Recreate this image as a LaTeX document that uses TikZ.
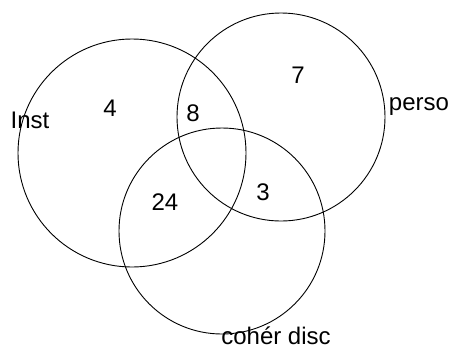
\documentclass[tikz,border=0pt]{standalone}
\usepackage{fontspec}
\setmainfont{Liberation Sans}
\begin{document}
\begin{tikzpicture}[x=1pt,y=-1pt,
  setcircle/.style={draw=black,line width=0.9pt,circle,inner sep=0pt},
  lbl/.style={font=\fontsize{24}{24}\selectfont,inner sep=0pt,anchor=center}]
\useasboundingbox (0,0) rectangle (452,349);
\node[setcircle,minimum size=228pt] (inst) at (132,153) {};
\node[setcircle,minimum size=208pt] (perso) at (281,117) {};
\node[setcircle,minimum size=206pt] (coher) at (222,231) {};
\node[lbl] (tinst) at (30,120) {Inst};
\node[lbl] (tperso) at (419,107) {perso};
\node[lbl] (tcoher) at (276,336) {cohér disc};
\node[lbl] (n4) at (110,108) {4};
\node[lbl] (n8) at (193,113) {8};
\node[lbl] (n7) at (298,75) {7};
\node[lbl] (n24) at (165,202) {24};
\node[lbl] (n3) at (263,192) {3};
\end{tikzpicture}
\end{document}
